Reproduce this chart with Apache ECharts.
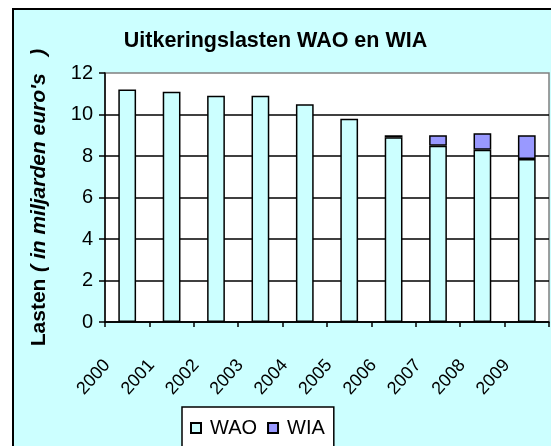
<!DOCTYPE html>
<html><head><meta charset="utf-8">
<script src="https://cdn.jsdelivr.net/npm/echarts@6/dist/echarts.min.js"></script>
<style>html,body{margin:0;padding:0;background:#fff}#c{width:551px;height:446px}</style>
</head><body><div id="c"></div>
<script>
var years = ['2000','2001','2002','2003','2004','2005','2006','2007','2008','2009'];
var wao = [11.2, 11.1, 10.9, 10.9, 10.5, 9.8, 8.9, 8.5, 8.3, 7.85];
var wia = [0, 0, 0, 0, 0, 0, 0.1, 0.5, 0.8, 1.15];
var yTicks = [0, 2, 4, 6, 8, 10, 12];
var FONT = 'Liberation Sans, Arial, sans-serif';

var chart = echarts.init(document.getElementById('c'), null, {renderer: 'canvas'});
chart.setOption({
  animation: false,
  backgroundColor: '#ffffff',
  textStyle: {fontFamily: FONT, color: '#000'},
  graphic: [{
    type: 'rect', z: -10, silent: true,
    shape: {x: 13, y: 9, width: 600, height: 500},
    style: {fill: '#CCFFFF', stroke: '#000', lineWidth: 2}
  }],
  title: {
    text: 'Uitkeringslasten WAO en WIA',
    left: 'center', top: 25,
    textStyle: {fontFamily: FONT, fontSize: 21.5, fontWeight: 'bold', color: '#000'}
  },
  legend: {
    data: ['WAO', 'WIA'],
    left: 182, top: 407,
    padding: [11, 9, 20, 8],
    backgroundColor: '#fff', borderColor: '#000', borderWidth: 1.5,
    icon: 'rect', itemWidth: 10, itemHeight: 10, itemGap: 10,
    textStyle: {fontFamily: FONT, fontSize: 20, color: '#000', padding: [0, 0, 0, 4]}
  },
  grid: {left: 105, top: 73, right: 2, bottom: 124, show: true, backgroundColor: '#fff', borderColor: '#808080', borderWidth: 1.5},
  xAxis: {
    type: 'category', data: years,
    axisLine: {lineStyle: {color: '#000', width: 1.5}},
    axisTick: {show: true, length: 5, lineStyle: {color: '#000', width: 1.5}},
    axisLabel: {rotate: 48, margin: 18, padding: [0, 30, 0, 0], fontFamily: FONT, fontSize: 18, color: '#000'}
  },
  yAxis: {
    type: 'value', min: 0, max: 12, interval: 2,
    name: "{a|Lasten}  {b|( in miljarden euro's   )}",
    nameLocation: 'middle', nameRotate: 90, nameGap: 55,
    nameTextStyle: {
      rich: {
        a: {fontFamily: FONT, fontSize: 21, fontWeight: 'bold', color: '#000'},
        b: {fontFamily: FONT, fontSize: 21, fontWeight: 'bold', fontStyle: 'italic', color: '#000'}
      }
    },
    axisLine: {show: true, lineStyle: {color: '#000', width: 1.5}},
    axisTick: {show: true, length: 6, lineStyle: {color: '#000', width: 1.5}},
    axisLabel: {margin: 12, fontFamily: FONT, fontSize: 20, color: '#000'},
    splitLine: {show: true, showMaxLine: false, lineStyle: {color: '#000', width: 1.5}}
  },
  series: [
    {name: 'WAO', type: 'bar', stack: 'tot', data: wao, barWidth: '40%',
     itemStyle: {color: '#CCFFFF', borderColor: '#000', borderWidth: 1.5}},
    {name: 'WIA', type: 'bar', stack: 'tot', data: wia.map(function (v) { return v === 0 ? '-' : v; }), barWidth: '40%',
     itemStyle: {color: '#9999FF', borderColor: '#000', borderWidth: 1.5}}
  ]
});
</script></body></html>
